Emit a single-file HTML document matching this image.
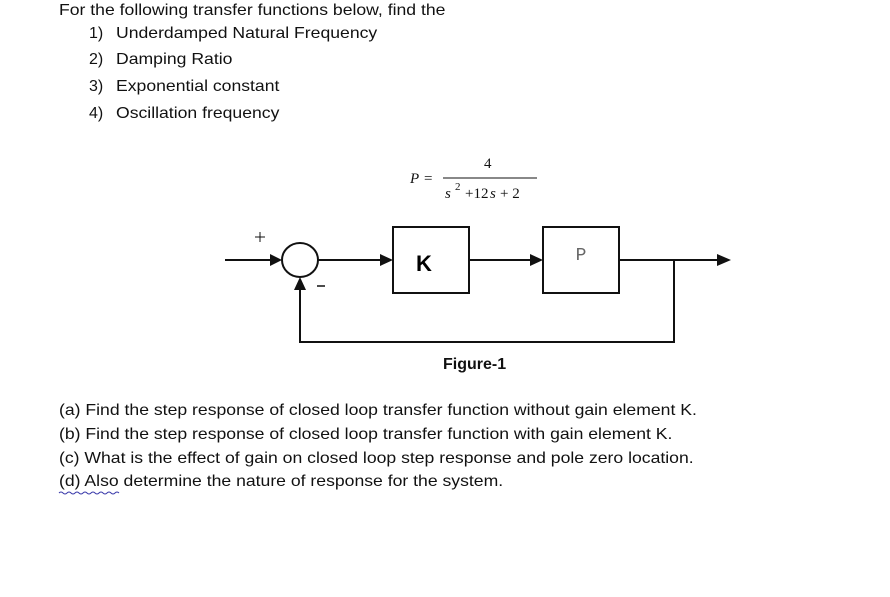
<!DOCTYPE html>
<html><head><style>
body{margin:0;width:890px;height:597px;background:#fff;position:relative;font-family:"Liberation Sans",sans-serif;color:#111;overflow:hidden}
.t{position:absolute;font-size:16px;white-space:nowrap;line-height:18px;transform-origin:0 0;transform:scaleX(1.1)}
.n{position:absolute;font-size:16px;line-height:18px}
</style></head><body>
<div class="t" style="left:59px;top:2px">For the following transfer functions below, find the</div>
<div class="n" style="left:89px;top:25px">1)</div><div class="t" style="left:116px;top:25px">Underdamped Natural Frequency</div>
<div class="n" style="left:89px;top:51px">2)</div><div class="t" style="left:116px;top:51px">Damping Ratio</div>
<div class="n" style="left:89px;top:78px">3)</div><div class="t" style="left:116px;top:78px">Exponential constant</div>
<div class="n" style="left:89px;top:105px">4)</div><div class="t" style="left:116px;top:105px">Oscillation frequency</div>
<svg width="890" height="597" style="position:absolute;left:0;top:0">
<g font-family="Liberation Serif,serif" font-size="15" fill="#111">
<text x="410" y="183" font-style="italic">P</text><text x="424" y="183">=</text>
<text x="484" y="168">4</text>
<line x1="443" y1="178" x2="537" y2="178" stroke="#111" stroke-width="1"/>
<text x="445" y="198" font-style="italic">s</text><text x="455" y="190" font-size="11">2</text>
<text x="465" y="198">+12</text><text x="490" y="198" font-style="italic">s</text><text x="500" y="198">+ 2</text>
</g>
<g stroke="#111" stroke-width="2" fill="none">
<ellipse cx="300" cy="260" rx="18" ry="17"/>
<rect x="393" y="227" width="76" height="66"/>
<rect x="543" y="227" width="76" height="66"/>
<line x1="225" y1="260" x2="272" y2="260"/>
<line x1="318" y1="260" x2="382" y2="260"/>
<line x1="469" y1="260" x2="532" y2="260"/>
<line x1="619" y1="260" x2="718" y2="260"/>
<polyline points="674,260 674,342 300,342 300,288"/>
<line x1="255" y1="237" x2="265" y2="237" stroke-width="1"/><line x1="260" y1="232" x2="260" y2="242" stroke-width="1"/>
<line x1="317" y1="286" x2="325" y2="286" stroke-width="1.5"/>
</g>
<g fill="#111">
<polygon points="270,254 282,260 270,266"/>
<polygon points="380,254 393,260 380,266"/>
<polygon points="530,254 543,260 530,266"/>
<polygon points="717,254 731,260 717,266"/>
<polygon points="294,290 300,277 306,290"/>
</g>
<text x="424" y="271" text-anchor="middle" font-family="Liberation Sans Narrow,Liberation Sans,sans-serif" font-weight="bold" font-size="22">K</text>
<text x="581" y="260" text-anchor="middle" font-family="Liberation Mono,monospace" font-size="18" fill="#666">P</text>
<path d="M59 493 q2 -2 4 0 t4 0 t4 0 t4 0 t4 0 t4 0 t4 0 t4 0 t4 0 t4 0 t4 0 t4 0 t4 0 t4 0 t4 0" stroke="#3a3aaa" fill="none" stroke-width="1"/>
</svg>
<div class="n" style="left:443px;top:356px;font-weight:bold">Figure-1</div>
<div class="t" style="left:59px;top:402px">(a) Find the step response of closed loop transfer function without gain element K.</div>
<div class="t" style="left:59px;top:426px">(b) Find the step response of closed loop transfer function with gain element K.</div>
<div class="t" style="left:59px;top:450px">(c) What is the effect of gain on closed loop step response and pole zero location.</div>
<div class="t" style="left:59px;top:473px">(d) Also determine the nature of response for the system.</div>
</body></html>
